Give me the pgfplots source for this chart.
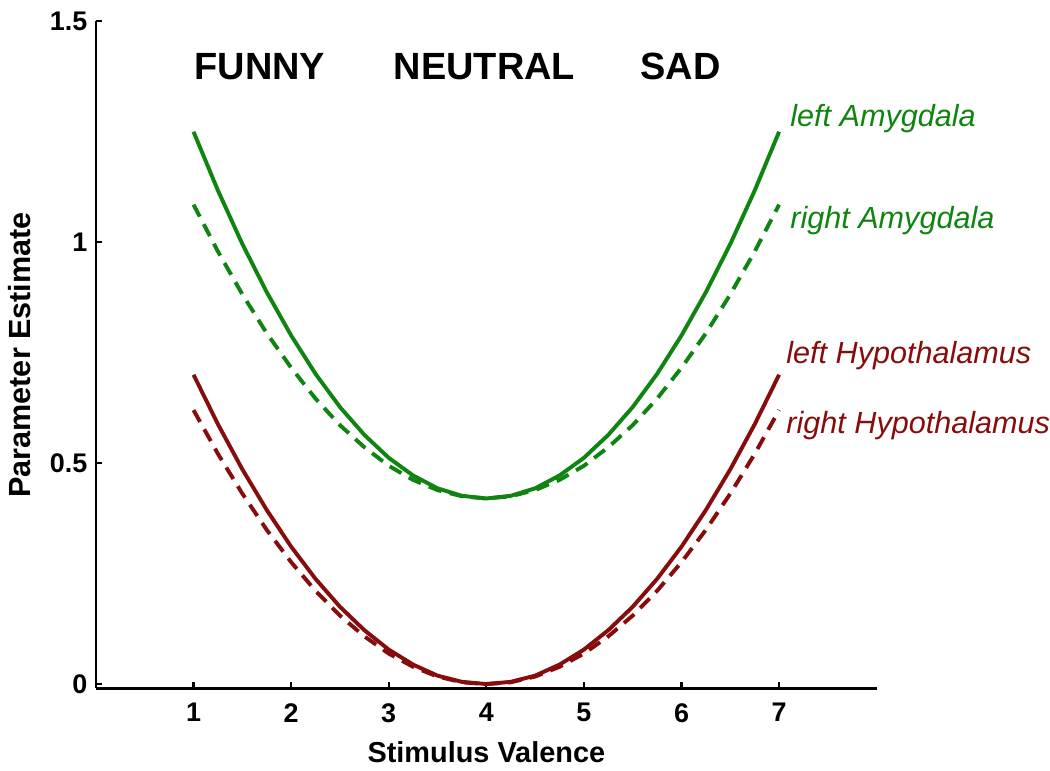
\documentclass[border=0pt]{standalone}
\usepackage{pgfplots}
\pgfplotsset{compat=1.18}
\usepackage{fontspec}
\setmainfont{Liberation Sans}
\definecolor{amyg}{RGB}{16,132,16}
\definecolor{hypo}{RGB}{135,12,12}
\begin{document}
\begin{tikzpicture}
\begin{axis}[
    scale only axis,
    width=319pt, height=272.6pt,
    xmin=0, xmax=8,
    ymin=-0.01, ymax=1.5,
    axis x line*=bottom,
    axis y line*=left,
    axis line style={line width=1pt, -},
    xtick={1,2,3,4,5,6,7},
    ytick={0,0.5,1,1.5},
    yticklabels={0,0.5,1,1.5},
    tick align=inside,
    major tick length=2.5pt,
    tick style={line width=0.9pt, black},
    ticklabel style={font=\bfseries\fontsize{11}{12}\selectfont},
    xticklabel style={yshift=-2.5pt},
    /pgf/number format/assume math mode=true,
    xlabel={\bfseries Stimulus Valence},
    ylabel={\bfseries Parameter Estimate},
    xlabel style={font=\bfseries\fontsize{11.8}{13}\selectfont, yshift=-1pt},
    ylabel style={font=\bfseries\fontsize{12.5}{14}\selectfont, yshift=1pt},
    clip=false,
]
\addplot[amyg, line width=1.6pt] coordinates {
 (1,1.250)(1.25,1.117)(1.5,0.996)(1.75,0.887)(2,0.789)(2.25,0.702)(2.5,0.627)
 (2.75,0.564)(3,0.512)(3.25,0.472)(3.5,0.443)(3.75,0.426)(4,0.420)
 (4.25,0.426)(4.5,0.443)(4.75,0.472)(5,0.512)(5.25,0.564)(5.5,0.627)
 (5.75,0.702)(6,0.789)(6.25,0.887)(6.5,0.996)(6.75,1.117)(7,1.250)
};
\addplot[amyg, line width=1.6pt, dash pattern=on 5.5pt off 3.5pt] coordinates {
 (1,1.085)(1.25,0.979)(1.5,0.882)(1.75,0.794)(2,0.716)(2.25,0.646)(2.5,0.586)
 (2.75,0.536)(3,0.494)(3.25,0.462)(3.5,0.439)(3.75,0.425)(4,0.420)
 (4.25,0.425)(4.5,0.439)(4.75,0.462)(5,0.494)(5.25,0.536)(5.5,0.586)
 (5.75,0.646)(6,0.716)(6.25,0.794)(6.5,0.882)(6.75,0.979)(7,1.085)
};
\addplot[hypo, line width=1.6pt] coordinates {
 (1,0.700)(1.25,0.588)(1.5,0.486)(1.75,0.394)(2,0.311)(2.25,0.238)(2.5,0.175)
 (2.75,0.122)(3,0.078)(3.25,0.044)(3.5,0.019)(3.75,0.005)(4,0)
 (4.25,0.005)(4.5,0.019)(4.75,0.044)(5,0.078)(5.25,0.122)(5.5,0.175)
 (5.75,0.238)(6,0.311)(6.25,0.394)(6.5,0.486)(6.75,0.588)(7,0.700)
};
\addplot[hypo, line width=1.6pt, dash pattern=on 5.5pt off 3.5pt] coordinates {
 (1,0.620)(1.25,0.521)(1.5,0.431)(1.75,0.349)(2,0.276)(2.25,0.211)(2.5,0.155)
 (2.75,0.108)(3,0.069)(3.25,0.039)(3.5,0.017)(3.75,0.004)(4,0)
 (4.25,0.004)(4.5,0.017)(4.75,0.039)(5,0.069)(5.25,0.108)(5.5,0.155)
 (5.75,0.211)(6,0.276)(6.25,0.349)(6.5,0.431)(6.75,0.521)(7,0.620)
};
\node[font=\bfseries\fontsize{15.5}{18}\selectfont] at (axis cs:1.68,1.398) {FUNNY};
\node[font=\bfseries\fontsize{15.5}{18}\selectfont] at (axis cs:3.98,1.398) {NEUTRAL};
\node[font=\bfseries\fontsize{15.5}{18}\selectfont] at (axis cs:5.99,1.398) {SAD};
\node[anchor=west, inner sep=0pt, amyg, font=\itshape\fontsize{12.5}{14}\selectfont] at (axis cs:7.11,1.28) {left Amygdala};
\node[anchor=west, inner sep=0pt, amyg, font=\itshape\fontsize{12.5}{14}\selectfont] at (axis cs:7.11,1.05) {right Amygdala};
\node[anchor=west, inner sep=0pt, hypo, font=\itshape\fontsize{12.5}{14}\selectfont] at (axis cs:7.07,0.743) {left Hypothalamus};
\node[anchor=west, inner sep=0pt, hypo, font=\itshape\fontsize{12.5}{14}\selectfont] at (axis cs:7.07,0.586) {right Hypothalamus};
\end{axis}
\path (-37.4pt,-30pt) rectangle (387.6pt,281.3pt);
\end{tikzpicture}
\end{document}
